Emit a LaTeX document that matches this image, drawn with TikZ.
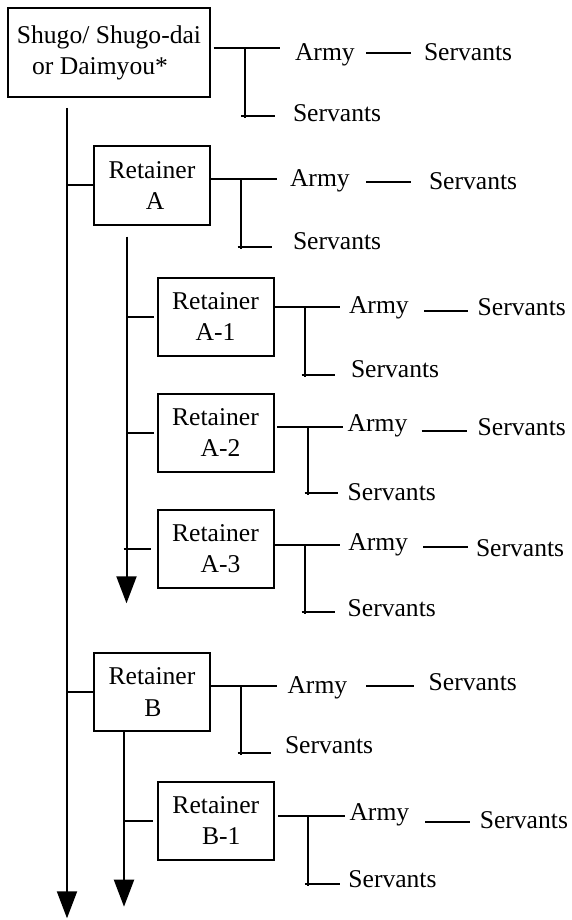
\documentclass[tikz,border=0pt]{standalone}
\usepackage{fontspec}
\setmainfont{Liberation Serif}
\usetikzlibrary{arrows.meta}
\tikzset{
  box/.style={draw, line width=2pt, align=center, inner sep=0pt, minimum width=116pt, minimum height=78pt},
  txt/.style={anchor=base west, inner sep=0pt},
}
\begin{document}
\begin{tikzpicture}[x=1pt, y=-1pt, line width=2pt, line cap=butt, font=\fontsize{25.6}{31.5}\selectfont, >={Triangle[length=27pt,width=20pt]}]
		\useasboundingbox (0,0) rectangle (571,920);
		% boxes
		\node[box, minimum width=202pt, minimum height=89pt] (lord) at (109,52.8) {Shugo/ Shugo-dai\\or Daimyou*\hspace*{18pt}};
		\node[box] (ra) at (152,185.5) {Retainer\\\hspace*{6pt}A};
		\node[box] (ra1) at (215.5,316.5) {Retainer\\A-1};
		\node[box] (ra2) at (215.5,432.5) {Retainer\\\hspace*{10pt}A-2};
		\node[box] (ra3) at (215.5,548.7) {Retainer\\\hspace*{10pt}A-3};
		\node[box] (rb) at (152,692.3) {Retainer\\\hspace*{2pt}B};
		\node[box] (rb1) at (215.8,820.5) {Retainer\\\hspace*{11pt}B-1};
		% trunks
		\coordinate (trunk) at (67,108); \coordinate (trunkend) at (67,918.3);
		\coordinate (subA) at (126.5,236.7); \coordinate (subAend) at (126.5,603.3);
		\coordinate (subB) at (124,730.7); \coordinate (subBend) at (124,906.7);
		\draw[->] (trunk) -- (trunkend);
		\draw[->] (subA) -- (subAend);
		\draw[->] (subB) -- (subBend);
		\draw (trunk |- ra.west) -- (ra.west);
		\draw (trunk |- rb.west) -- (rb.west);
		\foreach \bx in {ra1,ra2} \draw (subA |- \bx.west) -- ([xshift=-3pt]\bx.west);
		\draw ([xshift=-3pt]subA |- ra3.west) -- ([xshift=-6pt]ra3.west);
		\draw (subB |- rb1.west) -- ([xshift=-3.5pt]rb1.west);
		% army and servants
		\foreach \nm/\ly/\xs/\xe/\xv/\yw/\ax/\ay/\da/\db/\dy/\sx/\sy/\lx/\lb in {
			0/48.3/213.5/280/244.5/116/294/61/366/411/53/423/61/292/121.7,
			a/179.3/210/277/241/246.7/289/186/366/411/182.3/428/189.3/292/249.3,
			a1/307.3/274.3/340/305/375/348/313/424/468/310.7/476.7/315/350/377.3,
			a2/426.7/277/343/308/493.3/346.7/431.7/421.7/466.7/430.7/476.7/435/346.7/500,
			a3/545/274.3/340/305/612.3/347.3/550/423.3/468.3/547.3/475/556/346.7/616.7,
			b/685.7/210/276.6/241/752.7/286.5/693.3/366/413.5/685.7/427.7/690/284/753.3,
			b1/815.7/278/345/308.4/884/348.5/820/425/470/821.7/478.8/828.3/347.4/887.3}
		{
			\draw (\xs,\ly) -- (\xe,\ly) (\xv,\ly) -- (\xv,\yw+2) (\xv-3.5,\yw) -- (\xe-5.5,\yw);
			\node[txt] (army\nm) at (\ax,\ay) {Army};
			\node[txt] (serv\nm) at (\sx,\sy) {Servants};
			\node[txt] (low\nm) at (\lx,\lb) {Servants};
			\draw (\da,\dy) -- (\db,\dy);
		}
	\end{tikzpicture}
\end{document}
